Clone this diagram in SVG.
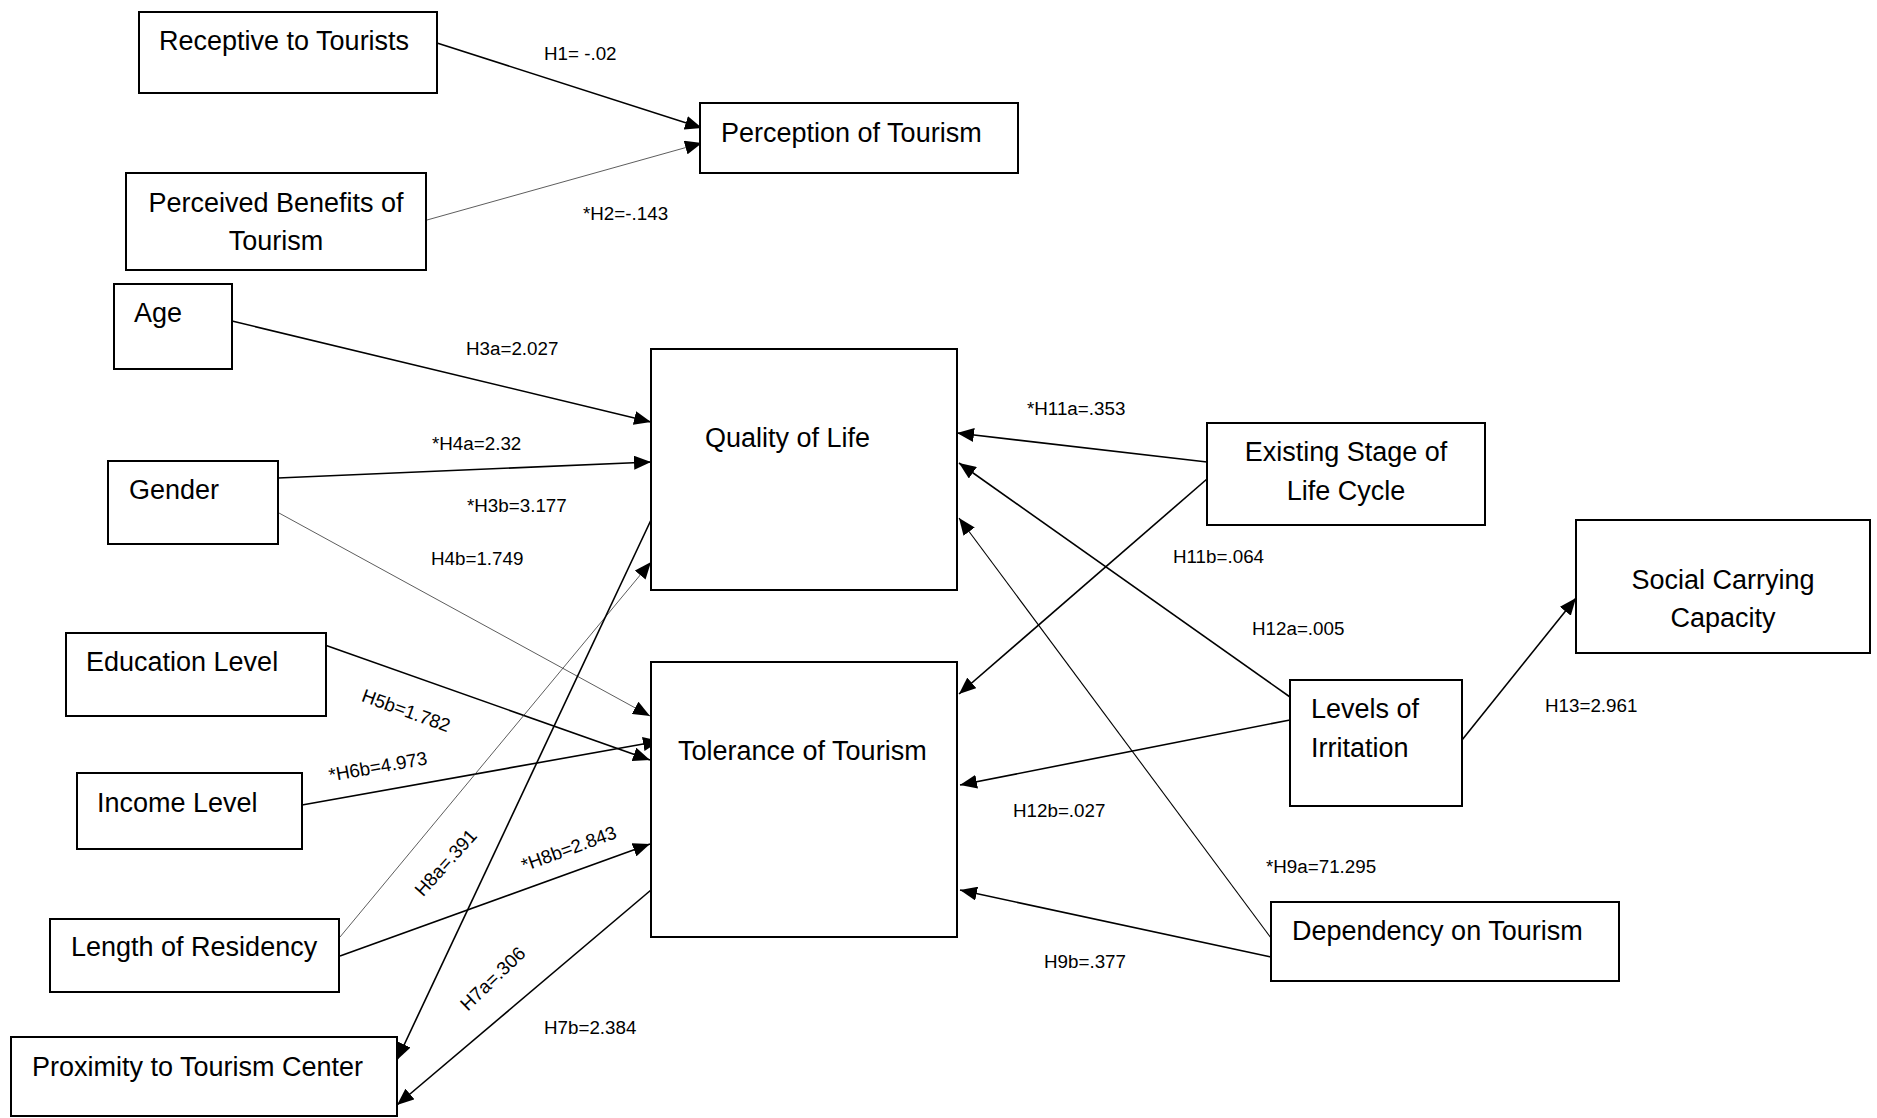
<svg xmlns="http://www.w3.org/2000/svg" width="1877" height="1118" viewBox="0 0 1877 1118">
  <style>
    .box { fill: #ffffff; stroke: #000000; stroke-width: 2; }
    .lbl { font-family: "Liberation Sans", Arial, sans-serif; font-size: 27px; fill: #000000; }
    .mid { text-anchor: middle; }
    .hyp { font-family: "Liberation Sans", Arial, sans-serif; font-size: 18.8px; fill: #000000; }
    .edge { stroke: #000000; stroke-width: 1.6; fill: none; marker-end: url(#head); }
    .thin { stroke: #333333; stroke-width: 0.8; fill: none; marker-end: url(#head); }
  </style>
  <defs>
    <marker id="head" markerUnits="userSpaceOnUse" markerWidth="17" markerHeight="14" refX="17" refY="7" orient="auto">
      <path d="M0,0 L17,7 L0,14 z" fill="#000000"/>
    </marker>
  </defs>
  <rect width="1877" height="1118" fill="#ffffff"/>

  <!-- connectors -->
  <g id="connectors">
    <line class="edge" x1="437" y1="43" x2="702" y2="128"/>
    <line class="thin" x1="427" y1="220" x2="702" y2="143"/>
    <line class="edge" x1="232" y1="321" x2="651" y2="422"/>
    <line class="edge" x1="278" y1="478" x2="651" y2="462"/>
    <line class="thin" x1="279" y1="513" x2="650" y2="716"/>
    <line class="edge" x1="322" y1="644" x2="650" y2="760"/>
    <line class="edge" x1="302" y1="805" x2="660" y2="741"/>
    <line class="thin" x1="340" y1="937" x2="651" y2="562"/>
    <line class="edge" x1="340" y1="956" x2="650" y2="844"/>
    <line class="edge" x1="651" y1="520" x2="397" y2="1060"/>
    <line class="edge" x1="651" y1="890" x2="397" y2="1105"/>
    <line class="edge" x1="1207" y1="462" x2="957" y2="433"/>
    <line class="edge" x1="1207" y1="479" x2="959" y2="694"/>
    <line class="edge" x1="1290" y1="697" x2="959" y2="463"/>
    <line class="edge" x1="1271" y1="938" x2="959" y2="518" style="stroke-width:1.1"/>
    <line class="edge" x1="1290" y1="720" x2="960" y2="785"/>
    <line class="edge" x1="1271" y1="957" x2="960" y2="890"/>
    <line class="edge" x1="1462" y1="740" x2="1576" y2="598"/>
  </g>

  <!-- path coefficients -->
  <g id="coefficients">
    <text class="hyp" x="544" y="60">H1= -.02</text>
    <text class="hyp" x="583" y="220">*H2=-.143</text>
    <text class="hyp" x="466" y="355">H3a=2.027</text>
    <text class="hyp" x="432" y="450">*H4a=2.32</text>
    <text class="hyp" x="467" y="512">*H3b=3.177</text>
    <text class="hyp" x="431" y="565">H4b=1.749</text>
    <text class="hyp mid" transform="translate(406,711) rotate(20)" x="0" y="6">H5b=1.782</text>
    <text class="hyp mid" transform="translate(378,767) rotate(-10)" x="0" y="6">*H6b=4.973</text>
    <text class="hyp mid" transform="translate(446,863) rotate(-48)" x="0" y="6">H8a=.391</text>
    <text class="hyp mid" transform="translate(569,849) rotate(-20)" x="0" y="6">*H8b=2.843</text>
    <text class="hyp mid" transform="translate(493,979) rotate(-44)" x="0" y="6">H7a=.306</text>
    <text class="hyp" x="544" y="1034">H7b=2.384</text>
    <text class="hyp" x="1027" y="415">*H11a=.353</text>
    <text class="hyp" x="1173" y="563">H11b=.064</text>
    <text class="hyp" x="1252" y="635">H12a=.005</text>
    <text class="hyp" x="1545" y="712">H13=2.961</text>
    <text class="hyp" x="1013" y="817">H12b=.027</text>
    <text class="hyp" x="1266" y="873">*H9a=71.295</text>
    <text class="hyp" x="1044" y="968">H9b=.377</text>
  </g>

  <!-- nodes -->
  <g id="receptive">
    <rect class="box" x="139" y="12" width="298" height="81"/>
    <text class="lbl" x="159" y="50">Receptive to Tourists</text>
  </g>
  <g id="perception">
    <rect class="box" x="700" y="103" width="318" height="70"/>
    <text class="lbl" x="721" y="142">Perception of Tourism</text>
  </g>
  <g id="benefits">
    <rect class="box" x="126" y="173" width="300" height="97"/>
    <text class="lbl mid" x="276" y="212">Perceived Benefits of</text>
    <text class="lbl mid" x="276" y="250">Tourism</text>
  </g>
  <g id="age">
    <rect class="box" x="114" y="284" width="118" height="85"/>
    <text class="lbl" x="134" y="322">Age</text>
  </g>
  <g id="gender">
    <rect class="box" x="108" y="461" width="170" height="83"/>
    <text class="lbl" x="129" y="499">Gender</text>
  </g>
  <g id="quality">
    <rect class="box" x="651" y="349" width="306" height="241"/>
    <text class="lbl" x="705" y="447">Quality of Life</text>
  </g>
  <g id="tolerance">
    <rect class="box" x="651" y="662" width="306" height="275"/>
    <text class="lbl" x="678" y="760">Tolerance of Tourism</text>
  </g>
  <g id="education">
    <rect class="box" x="66" y="633" width="260" height="83"/>
    <text class="lbl" x="86" y="671">Education Level</text>
  </g>
  <g id="income">
    <rect class="box" x="77" y="773" width="225" height="76"/>
    <text class="lbl" x="97" y="812">Income Level</text>
  </g>
  <g id="residency">
    <rect class="box" x="50" y="919" width="289" height="73"/>
    <text class="lbl" x="71" y="956">Length of Residency</text>
  </g>
  <g id="proximity">
    <rect class="box" x="11" y="1037" width="386" height="79"/>
    <text class="lbl" x="32" y="1076">Proximity to Tourism Center</text>
  </g>
  <g id="lifecycle">
    <rect class="box" x="1207" y="423" width="278" height="102"/>
    <text class="lbl mid" x="1346" y="461">Existing Stage of</text>
    <text class="lbl mid" x="1346" y="500">Life Cycle</text>
  </g>
  <g id="capacity">
    <rect class="box" x="1576" y="520" width="294" height="133"/>
    <text class="lbl mid" x="1723" y="589">Social Carrying</text>
    <text class="lbl mid" x="1723" y="627">Capacity</text>
  </g>
  <g id="irritation">
    <rect class="box" x="1290" y="680" width="172" height="126"/>
    <text class="lbl" x="1311" y="718">Levels of</text>
    <text class="lbl" x="1311" y="757">Irritation</text>
  </g>
  <g id="dependency">
    <rect class="box" x="1271" y="902" width="348" height="79"/>
    <text class="lbl" x="1292" y="940">Dependency on Tourism</text>
  </g>
</svg>
